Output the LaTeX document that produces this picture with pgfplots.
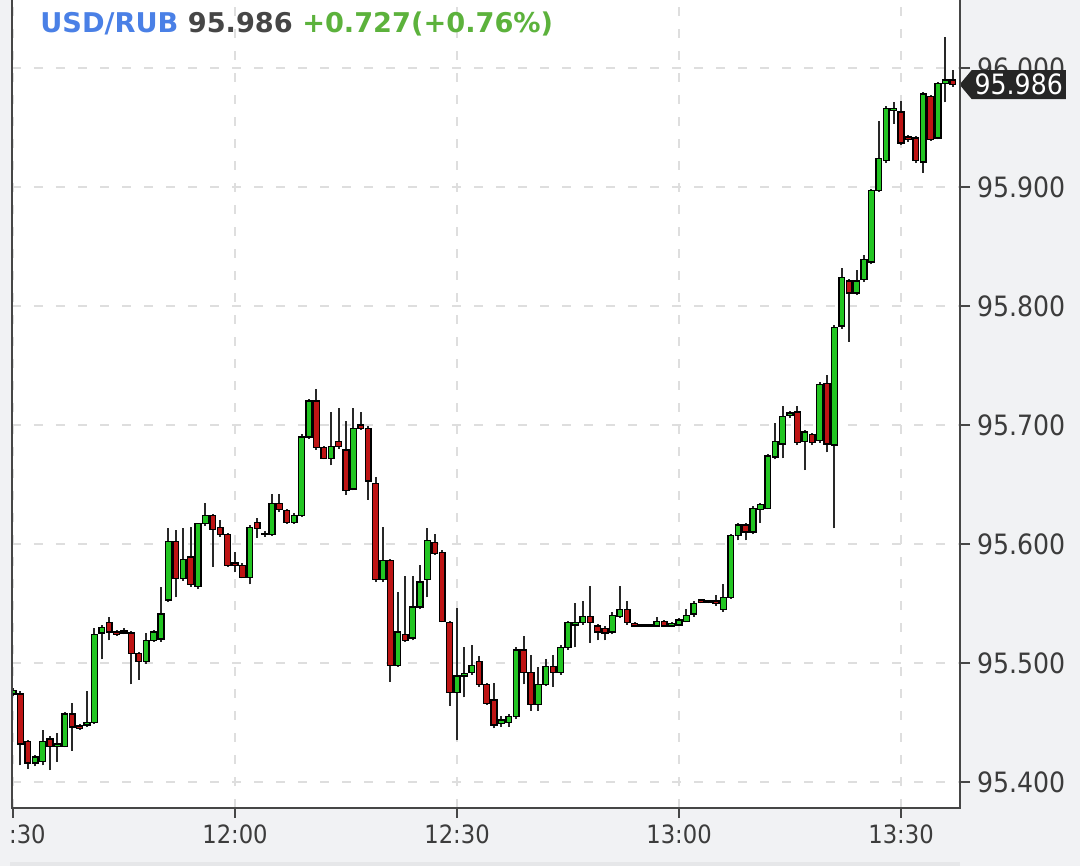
\documentclass[border=0pt]{standalone}
\usepackage{fontspec}
\setmainfont{DejaVu Sans}
\newfontfamily\condfont{DejaVu Sans Condensed}
\usepackage{pgfplots}
\usepackage{pgfplotstable}
\pgfplotsset{compat=1.18}
\usetikzlibrary{shapes.symbols}

\definecolor{bggray}{RGB}{241,242,244}
\definecolor{stripgray}{RGB}{230,231,233}
\definecolor{gridcol}{RGB}{222,222,222}
\definecolor{axiscol}{RGB}{70,70,70}
\definecolor{labelcol}{RGB}{60,60,60}
\definecolor{upgreen}{RGB}{34,197,34}
\definecolor{downred}{RGB}{190,20,20}
\definecolor{wickcol}{RGB}{40,40,40}
\definecolor{tagblack}{RGB}{38,38,38}
\definecolor{titleblue}{RGB}{74,128,230}
\definecolor{titlegray}{RGB}{70,70,70}
\definecolor{titlegreen}{RGB}{92,178,60}

% one-minute candles, m = minutes after 11:30
\pgfplotstableread{
m o h l c
0 95.474 95.479 95.472 95.477
1 95.474 95.476 95.414 95.432
2 95.434 95.435 95.411 95.416
3 95.416 95.423 95.413 95.421
4 95.417 95.444 95.414 95.434
5 95.436 95.439 95.410 95.430
6 95.430 95.441 95.417 95.432
7 95.430 95.459 95.429 95.457
8 95.457 95.466 95.426 95.446
9 95.447 95.449 95.444 95.445
10 95.448 95.476 95.446 95.450
11 95.450 95.529 95.449 95.524
12 95.525 95.532 95.503 95.530
13 95.534 95.539 95.519 95.526
14 95.526 95.528 95.523 95.524
15 95.525 95.529 95.524 95.527
16 95.525 95.527 95.482 95.508
17 95.508 95.509 95.486 95.501
18 95.501 95.525 95.499 95.519
19 95.519 95.528 95.518 95.526
20 95.520 95.564 95.518 95.541
21 95.553 95.613 95.551 95.602
22 95.602 95.612 95.555 95.571
23 95.571 95.613 95.569 95.587
24 95.589 95.614 95.564 95.566
25 95.564 95.618 95.562 95.617
26 95.617 95.634 95.615 95.624
27 95.624 95.625 95.581 95.612
28 95.614 95.620 95.606 95.608
29 95.608 95.609 95.581 95.582
30 95.584 95.593 95.576 95.582
31 95.582 95.584 95.571 95.572
32 95.572 95.616 95.566 95.614
33 95.618 95.622 95.605 95.613
34 95.609 95.611 95.606 95.608
35 95.608 95.642 95.607 95.634
36 95.634 95.642 95.627 95.629
37 95.628 95.629 95.617 95.618
38 95.618 95.626 95.617 95.624
39 95.624 95.692 95.623 95.690
40 95.690 95.722 95.688 95.720
41 95.720 95.730 95.679 95.681
42 95.681 95.682 95.671 95.672
43 95.672 95.711 95.666 95.682
44 95.686 95.714 95.680 95.682
45 95.679 95.703 95.641 95.645
46 95.646 95.714 95.645 95.697
47 95.700 95.711 95.696 95.697
48 95.697 95.699 95.637 95.653
49 95.651 95.656 95.568 95.570
50 95.570 95.614 95.568 95.586
51 95.586 95.587 95.484 95.498
52 95.498 95.560 95.497 95.526
53 95.524 95.573 95.518 95.519
54 95.521 95.573 95.519 95.547
55 95.547 95.582 95.545 95.568
56 95.570 95.613 95.555 95.603
57 95.601 95.608 95.591 95.592
58 95.593 95.595 95.534 95.535
59 95.534 95.535 95.464 95.475
60 95.475 95.546 95.435 95.489
61 95.489 95.513 95.471 95.491
62 95.492 95.515 95.490 95.498
63 95.501 95.506 95.480 95.482
64 95.482 95.483 95.465 95.466
65 95.469 95.483 95.445 95.448
66 95.449 95.455 95.446 95.452
67 95.450 95.457 95.446 95.455
68 95.455 95.513 95.453 95.511
69 95.511 95.523 95.482 95.492
70 95.492 95.507 95.460 95.465
71 95.465 95.497 95.460 95.482
72 95.482 95.503 95.481 95.497
73 95.497 95.507 95.480 95.492
74 95.492 95.515 95.490 95.513
75 95.513 95.535 95.511 95.534
76 95.532 95.550 95.513 95.534
77 95.534 95.552 95.532 95.539
78 95.539 95.565 95.517 95.534
79 95.531 95.533 95.519 95.526
80 95.529 95.531 95.519 95.525
81 95.526 95.543 95.524 95.540
82 95.539 95.565 95.538 95.545
83 95.545 95.552 95.532 95.534
84 95.533 95.534 95.530 95.531
85 95.532 95.533 95.530 95.531
86 95.531 95.533 95.530 95.532
87 95.531 95.539 95.530 95.535
88 95.535 95.536 95.530 95.531
89 95.531 95.534 95.530 95.533
90 95.532 95.538 95.531 95.536
91 95.535 95.545 95.534 95.540
92 95.541 95.552 95.539 95.550
93 95.553 95.554 95.550 95.551
94 95.552 95.553 95.550 95.551
95 95.552 95.557 95.548 95.550
96 95.545 95.566 95.543 95.555
97 95.555 95.608 95.554 95.607
98 95.607 95.618 95.603 95.616
99 95.616 95.618 95.603 95.610
100 95.610 95.632 95.608 95.630
101 95.629 95.634 95.618 95.633
102 95.630 95.676 95.629 95.674
103 95.673 95.702 95.671 95.686
104 95.684 95.716 95.672 95.707
105 95.708 95.712 95.706 95.710
106 95.711 95.716 95.683 95.685
107 95.686 95.696 95.662 95.694
108 95.692 95.693 95.683 95.685
109 95.687 95.736 95.685 95.734
110 95.735 95.742 95.677 95.684
111 95.683 95.784 95.613 95.782
112 95.783 95.832 95.781 95.824
113 95.821 95.823 95.770 95.811
114 95.811 95.830 95.809 95.821
115 95.822 95.843 95.820 95.839
116 95.837 95.898 95.835 95.897
117 95.897 95.955 95.896 95.924
118 95.922 95.968 95.920 95.966
119 95.964 95.971 95.953 95.966
120 95.963 95.972 95.935 95.937
121 95.942 95.944 95.938 95.940
122 95.941 95.943 95.920 95.922
123 95.921 95.980 95.912 95.978
124 95.976 95.977 95.939 95.940
125 95.941 95.988 95.940 95.987
126 95.987 96.026 95.971 95.990
127 95.990 95.998 95.984 95.986
}\candles

\pgfplotsset{
  frame/.style={
    scale only axis, width=474pt, height=404pt,
    xmin=-0.14, xmax=127.97, ymin=95.3781, ymax=96.0571,
  },
}
\tikzset{
  tag/.style={
    signal, signal to=west, signal pointer angle=100,
    fill=tagblack, text=white, inner xsep=1.5pt, inner ysep=0pt,
    minimum height=14.5pt,
    font=\condfont\fontsize{14}{16}\selectfont,
  },
}

\begin{document}
\begin{tikzpicture}
\path[use as bounding box, fill=bggray] (-6pt,-29pt) rectangle (534pt,404pt);
\fill[stripgray] (-1pt,-29pt) rectangle (474pt,-27pt);

% grid, ticks and wicks
\begin{axis}[
  frame,
  axis background/.style={fill=white},
  axis line style={draw=none},
  xtick={0,30,60,90,120},
  xticklabels={11:30,12:00,12:30,13:00,13:30},
  ytick={95.4,95.5,95.6,95.7,95.8,95.9,96.0},
  yticklabels={95.400,95.500,95.600,95.700,95.800,95.900,96.000},
  xtick pos=bottom, ytick pos=right, yticklabel pos=right,
  tick align=outside, major tick length=5pt,
  tick style={axiscol, line width=0.8pt},
  grid=major,
  major grid style={gridcol, line width=0.6pt, dash pattern=on 4.5pt off 6.5pt},
  xticklabel style={font=\condfont\fontsize{12.6}{14}\selectfont, text=labelcol},
  yticklabel style={font=\condfont\fontsize{14}{16}\selectfont, text=labelcol},
]
\addplot[draw=none, mark=none,
  error bars/.cd, y dir=plus, y explicit, error mark=none,
  error bar style={draw=wickcol, line width=1pt, solid}]
  table[x=m, y=l, y error plus expr=\thisrow{h}-\thisrow{l}] {\candles};
\end{axis}

% candle bodies
\begin{axis}[frame, hide axis, ybar stacked, bar width=2.85pt]
\addplot[draw=none, fill=none]
  table[x=m, y expr={min(\thisrow{o},\thisrow{c})}] {\candles};
\addplot[fill=upgreen, draw=black, line width=0.7pt]
  table[x=m, y expr={max(\thisrow{c}-\thisrow{o},0)}] {\candles};
\addplot[fill=downred, draw=black, line width=0.7pt]
  table[x=m, y expr={max(\thisrow{o}-\thisrow{c},0)}] {\candles};
\end{axis}

% last price tag and title
\begin{axis}[frame, hide axis, clip=false]
\addplot[draw=none, mark=none, nodes near coords, point meta=explicit symbolic,
  every node near coord/.append style={tag, anchor=west, xshift=-0.5pt}]
  coordinates {(127.97,95.986) [95.986]};
\node[anchor=base west, inner sep=0pt, xshift=14pt, yshift=-16.5pt,
  font=\bfseries\fontsize{13.6}{16}\selectfont] at (rel axis cs:0,1)
  {\textcolor{titleblue}{USD/RUB} \textcolor{titlegray}{95.986} \textcolor{titlegreen}{+0.727(+0.76\%)}};
\end{axis}

% the chart canvas cuts the first time label at its left edge
\fill[bggray] (-6pt,-26pt) rectangle (-1pt,-6pt);
\draw[axiscol, line width=1pt] (current axis.north west) -- (current axis.south west)
  -- (current axis.south east) -- (current axis.north east);
\end{tikzpicture}
\end{document}
